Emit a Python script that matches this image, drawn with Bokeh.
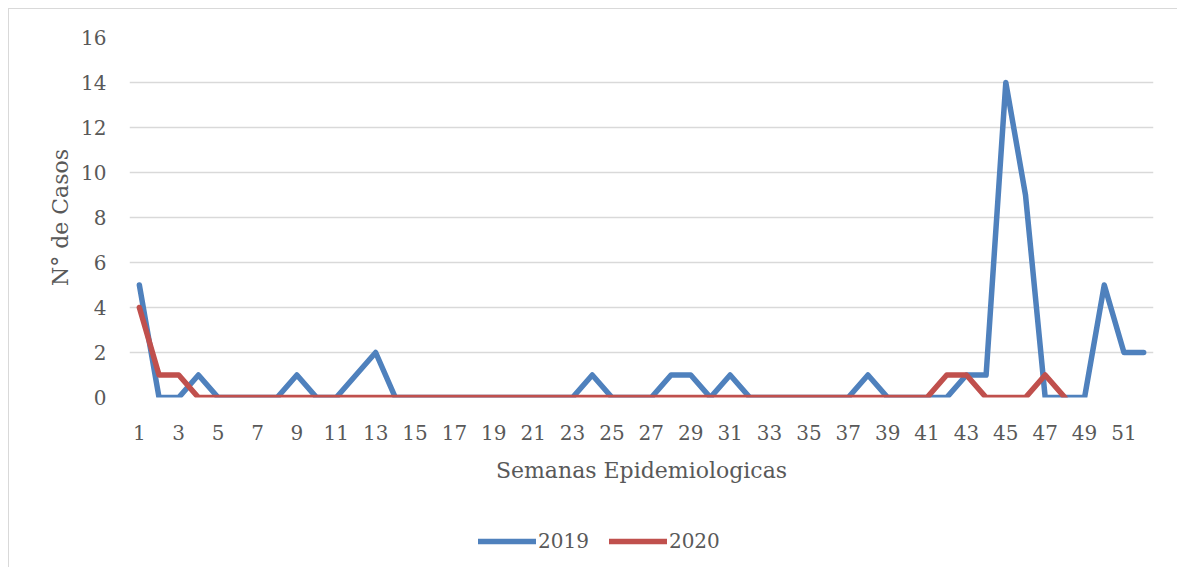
from bokeh.plotting import figure
from bokeh.layouts import column
from bokeh.models import FixedTicker, Legend, LegendItem, ColumnDataSource
from bokeh.embed import file_html
from bokeh.resources import INLINE

weeks_2019 = list(range(1, 53))
cases_2019 = [5, 0, 0, 1, 0, 0, 0, 0, 1, 0,
              0, 1, 2, 0, 0, 0, 0, 0, 0, 0,
              0, 0, 0, 1, 0, 0, 0, 1, 1, 0,
              1, 0, 0, 0, 0, 0, 0, 1, 0, 0,
              0, 0, 1, 1, 14, 9, 0, 0, 0, 5,
              2, 2]
weeks_2020 = list(range(1, 49))
cases_2020 = [4, 1, 1, 0, 0, 0, 0, 0, 0, 0,
              0, 0, 0, 0, 0, 0, 0, 0, 0, 0,
              0, 0, 0, 0, 0, 0, 0, 0, 0, 0,
              0, 0, 0, 0, 0, 0, 0, 0, 0, 0,
              0, 1, 1, 0, 0, 0, 1, 0]
x_ticks = list(range(1, 53, 2))
y_ticks = [0, 2, 4, 6, 8, 10, 12, 14, 16]
series_names = ["2019", "2020"]

FONT = "DejaVu Serif"
TXT = "#595959"
BLUE = "#4f81bd"
RED = "#c0504d"

p = figure(width=1169, height=488, output_backend="svg", toolbar_location=None,
           x_range=(0.5, 52.5), y_range=(0, 16))
p.min_border_left = 120
p.min_border_right = 25
p.min_border_top = 28
p.min_border_bottom = 100
p.outline_line_color = None
p.background_fill_color = "white"
p.border_fill_color = "white"

p.xgrid.grid_line_color = None
p.ygrid.grid_line_color = "#d9d9d9"
p.ygrid.grid_line_width = 1.5
p.ygrid.ticker = FixedTicker(ticks=y_ticks)

for ax in (p.xaxis[0], p.yaxis[0]):
    ax.axis_line_color = None
    ax.major_tick_line_color = None
    ax.minor_tick_line_color = None
    ax.major_label_text_font = FONT
    ax.major_label_text_font_size = "20px"
    ax.major_label_text_color = TXT
    ax.axis_label_text_font = FONT
    ax.axis_label_text_font_size = "22px"
    ax.axis_label_text_color = TXT
    ax.axis_label_text_font_style = "normal"

p.xaxis.ticker = FixedTicker(ticks=x_ticks)
p.xaxis.major_label_standoff = 21
p.xaxis.axis_label = "Semanas Epidemiologicas"
p.xaxis.axis_label_standoff = 15
p.yaxis.ticker = FixedTicker(ticks=y_ticks)
p.yaxis.major_label_standoff = 17
p.yaxis.axis_label = "N° de Casos"
p.yaxis.axis_label_standoff = 5

s19 = ColumnDataSource(dict(x=weeks_2019, y=cases_2019))
s20 = ColumnDataSource(dict(x=weeks_2020, y=cases_2020))
p.line("x", "y", source=s19, line_color=BLUE, line_width=5.5,
       line_join="round", line_cap="round")
p.line("x", "y", source=s20, line_color=RED, line_width=5.5,
       line_join="round", line_cap="round")

# legend strip below the chart
lg = figure(width=1169, height=70, output_backend="svg", toolbar_location=None,
            x_range=(1000, 1001), y_range=(1000, 1001))
lg.min_border = 0
lg.axis.visible = False
lg.grid.visible = False
lg.outline_line_color = None
lg.border_fill_color = "white"
l19 = lg.line("x", "y", source=s19, line_color=BLUE, line_width=5.5, line_cap="round")
l20 = lg.line("x", "y", source=s20, line_color=RED, line_width=5.5, line_cap="round")
legend = Legend(items=[LegendItem(label=series_names[0], renderers=[l19]),
                       LegendItem(label=series_names[1], renderers=[l20])],
                orientation="horizontal", location=(349, 14),
                label_text_font=FONT, label_text_font_size="20px",
                label_text_color=TXT, glyph_width=58, glyph_height=20,
                label_standoff=2, spacing=20, border_line_color=None,
                background_fill_alpha=0, padding=4, margin=0)
lg.add_layout(legend, "center")

layout = column(p, lg, spacing=0)
layout.styles = {"border": "1px solid #d9d9d9", "margin-left": "8px",
                 "margin-top": "8px", "background": "white"}

open("out.html", "w").write(file_html(layout, INLINE))
